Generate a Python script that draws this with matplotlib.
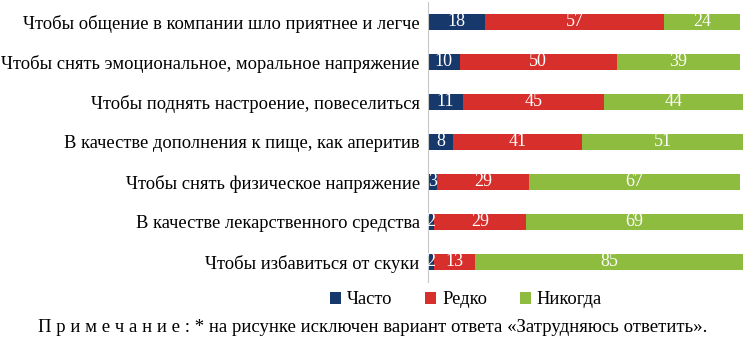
import matplotlib.pyplot as plt
import numpy as np

plt.rcParams["font.family"] = ["Liberation Serif", "DejaVu Serif"]

categories = [
    "Чтобы общение в компании шло приятнее и легче",
    "Чтобы снять эмоциональное, моральное напряжение",
    "Чтобы поднять настроение, повеселиться",
    "В качестве дополнения к пище, как аперитив",
    "Чтобы снять физическое напряжение",
    "В качестве лекарственного средства",
    "Чтобы избавиться от скуки",
]
often = [18, 10, 11, 8, 3, 2, 2]
rarely = [57, 50, 45, 41, 29, 29, 13]
never = [24, 39, 44, 51, 67, 69, 85]

series = [("Часто", often, "#17386b"),
          ("Редко", rarely, "#d7302c"),
          ("Никогда", never, "#8dbc3e")]

fig = plt.figure(figsize=(7.47, 3.42), dpi=100)
ax = fig.add_axes([428 / 747, 1 - 282 / 342, 315 / 747, 280 / 342])

y = np.arange(len(categories))
left = np.zeros(len(categories))
for name, vals, color in series:
    vals = np.array(vals, dtype=float)
    ax.barh(y, vals, left=left, height=0.42, color=color, label=name)
    for yi, (l, v) in enumerate(zip(left, vals)):
        ax.text(l + v / 2, yi, f"{int(v)}",
                ha="center", va="center", color="white", fontsize=13)
    left += vals

ax.set_xlim(0, 100)
ax.set_ylim(len(categories) - 0.5, -0.5)
ax.set_yticks(y)
ax.set_yticklabels(categories, fontsize=13.3)
ax.tick_params(axis="y", length=0, pad=6)
ax.set_xticks([])
for s in ["top", "right", "bottom"]:
    ax.spines[s].set_visible(False)
ax.spines["left"].set_color("#c8c8c8")

fig.legend(loc="center", bbox_to_anchor=(466 / 747, 1 - 300 / 342), ncol=3,
           frameon=False, fontsize=13.3, handlelength=0.6, handleheight=0.6,
           columnspacing=1.8, handletextpad=0.3)

fig.text(373 / 747, 1 - 327 / 342,
         "П р и м е ч а н и е : * на рисунке исключен вариант ответа «Затрудняюсь ответить».",
         ha="center", va="center", fontsize=13.5)

fig.savefig("out.png", dpi=100)
